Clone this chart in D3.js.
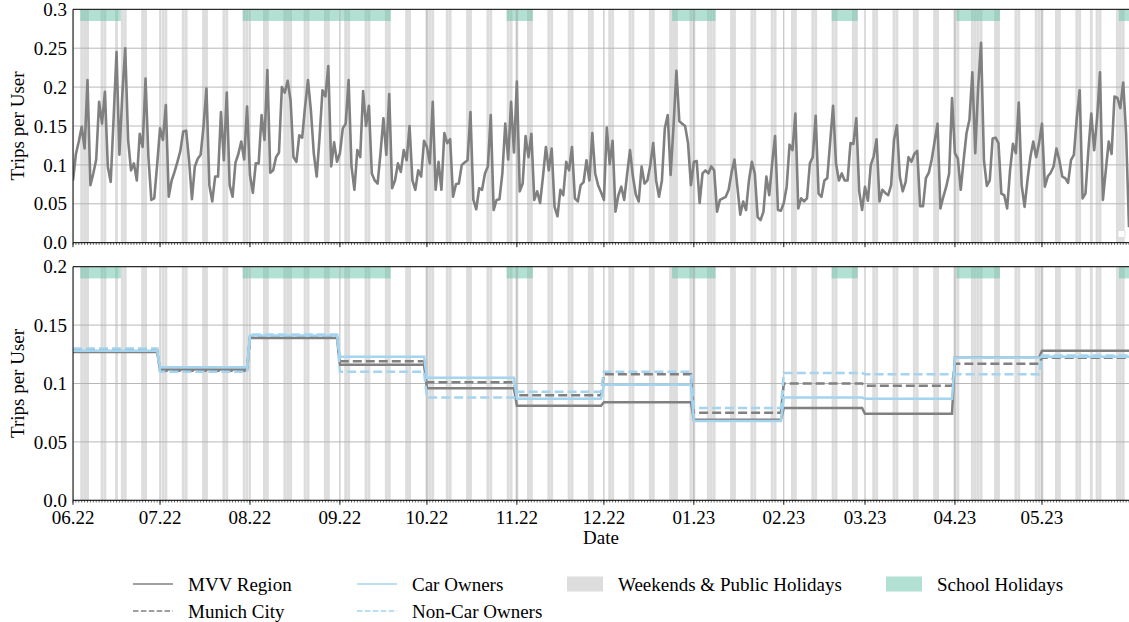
<!DOCTYPE html>
<html>
<head>
<meta charset="utf-8">
<script src="https://cdn.jsdelivr.net/npm/d3@7"></script>
<style>
  body { margin: 0; background: #fff; }
  svg { display: block; }
  text { font-family: "Liberation Serif", "DejaVu Serif", serif; fill: #000; }
</style>
</head>
<body>
<svg id="chart" width="1129" height="622"></svg>
<script>
// ---- data ----
var startDay = '2022-06-01';
var endDay = '2023-05-31';

// daily trips per user, MVV region, one value per day from 2022-06-01
var dailyTrips = [
  0.080, 0.114, 0.130, 0.149, 0.121, 0.209, 0.074, 0.089, 0.107, 0.181,
  0.153, 0.194, 0.098, 0.078, 0.160, 0.245, 0.113, 0.190, 0.250, 0.132,
  0.093, 0.102, 0.080, 0.140, 0.123, 0.211, 0.110, 0.055, 0.057, 0.100,
  0.147, 0.132, 0.177, 0.059, 0.080, 0.091, 0.104, 0.118, 0.143, 0.144,
  0.106, 0.056, 0.098, 0.108, 0.113, 0.150, 0.198, 0.074, 0.053, 0.085,
  0.085, 0.168, 0.106, 0.193, 0.074, 0.059, 0.103, 0.114, 0.130, 0.107,
  0.175, 0.087, 0.064, 0.102, 0.102, 0.164, 0.132, 0.222, 0.090, 0.093,
  0.110, 0.116, 0.200, 0.193, 0.208, 0.183, 0.110, 0.104, 0.138, 0.135,
  0.175, 0.209, 0.170, 0.115, 0.085, 0.136, 0.196, 0.188, 0.227, 0.098,
  0.129, 0.104, 0.115, 0.147, 0.153, 0.209, 0.098, 0.068, 0.119, 0.110,
  0.195, 0.150, 0.176, 0.089, 0.080, 0.076, 0.115, 0.160, 0.113, 0.191,
  0.070, 0.080, 0.102, 0.091, 0.119, 0.106, 0.150, 0.080, 0.068, 0.093,
  0.085, 0.131, 0.123, 0.102, 0.181, 0.068, 0.104, 0.068, 0.141, 0.128,
  0.133, 0.059, 0.075, 0.076, 0.100, 0.103, 0.106, 0.168, 0.055, 0.043,
  0.070, 0.068, 0.089, 0.098, 0.164, 0.042, 0.055, 0.056, 0.089, 0.153,
  0.107, 0.181, 0.116, 0.207, 0.066, 0.076, 0.137, 0.110, 0.140, 0.055,
  0.066, 0.051, 0.085, 0.123, 0.093, 0.121, 0.046, 0.034, 0.068, 0.061,
  0.104, 0.093, 0.123, 0.057, 0.053, 0.074, 0.078, 0.106, 0.080, 0.141,
  0.089, 0.074, 0.065, 0.055, 0.148, 0.101, 0.131, 0.040, 0.061, 0.072,
  0.055, 0.088, 0.119, 0.085, 0.062, 0.053, 0.098, 0.076, 0.080, 0.100,
  0.128, 0.080, 0.059, 0.080, 0.147, 0.164, 0.087, 0.150, 0.221, 0.156,
  0.153, 0.150, 0.128, 0.074, 0.104, 0.105, 0.051, 0.089, 0.093, 0.089,
  0.098, 0.093, 0.040, 0.055, 0.057, 0.059, 0.068, 0.090, 0.107, 0.072,
  0.036, 0.053, 0.042, 0.080, 0.104, 0.089, 0.033, 0.029, 0.040, 0.085,
  0.061, 0.102, 0.137, 0.042, 0.041, 0.051, 0.072, 0.126, 0.119, 0.166,
  0.044, 0.057, 0.053, 0.057, 0.102, 0.110, 0.163, 0.063, 0.059, 0.080,
  0.083, 0.130, 0.176, 0.102, 0.080, 0.089, 0.080, 0.080, 0.128, 0.127,
  0.160, 0.066, 0.042, 0.072, 0.054, 0.100, 0.111, 0.133, 0.053, 0.068,
  0.064, 0.061, 0.074, 0.132, 0.151, 0.085, 0.066, 0.078, 0.110, 0.104,
  0.114, 0.118, 0.047, 0.047, 0.083, 0.090, 0.107, 0.130, 0.153, 0.044,
  0.059, 0.072, 0.089, 0.186, 0.115, 0.108, 0.068, 0.106, 0.141, 0.158,
  0.219, 0.115, 0.200, 0.257, 0.106, 0.073, 0.080, 0.134, 0.135, 0.128,
  0.063, 0.061, 0.044, 0.093, 0.127, 0.115, 0.180, 0.074, 0.046, 0.080,
  0.110, 0.130, 0.110, 0.128, 0.153, 0.072, 0.085, 0.090, 0.098, 0.121,
  0.106, 0.085, 0.083, 0.077, 0.106, 0.113, 0.160, 0.196, 0.057, 0.063,
  0.119, 0.166, 0.119, 0.160, 0.219, 0.055, 0.093, 0.130, 0.114, 0.188,
  0.186, 0.173, 0.206, 0.140, 0.020
];

// monthly means
var months = ['2022-06', '2022-07', '2022-08', '2022-09', '2022-10', '2022-11',
              '2022-12', '2023-01', '2023-02', '2023-03', '2023-04', '2023-05'];
var mvvRegion    = [0.127, 0.112, 0.139, 0.116, 0.096, 0.081, 0.084, 0.069, 0.079, 0.074, 0.122, 0.128];
var munichCity   = [0.129, 0.111, 0.140, 0.119, 0.101, 0.090, 0.108, 0.075, 0.100, 0.098, 0.117, 0.122];
var carOwners    = [0.128, 0.114, 0.141, 0.123, 0.105, 0.087, 0.099, 0.068, 0.088, 0.087, 0.122, 0.123];
var nonCarOwners = [0.130, 0.110, 0.142, 0.110, 0.088, 0.093, 0.110, 0.079, 0.109, 0.108, 0.108, 0.124];

var publicHolidays = ['2022-06-06', '2022-06-16', '2022-08-15', '2022-10-03', '2022-11-01',
                      '2022-12-25', '2022-12-26', '2023-01-01', '2023-01-06', '2023-04-07',
                      '2023-04-10', '2023-05-01', '2023-05-18', '2023-05-29'];
var schoolHolidays = [['2022-06-04', '2022-06-17'], ['2022-07-30', '2022-09-18'],
                      ['2022-10-29', '2022-11-06'], ['2022-12-25', '2023-01-08'],
                      ['2023-02-18', '2023-02-26'], ['2023-04-02', '2023-04-16'],
                      ['2023-05-28', '2023-05-31']];

var topTicks = [0, 0.05, 0.1, 0.15, 0.2, 0.25, 0.3];
var topTickLabels = ['0.0', '0.05', '0.1', '0.15', '0.2', '0.25', '0.3'];
var bottomTicks = [0, 0.05, 0.1, 0.15, 0.2];
var bottomTickLabels = ['0.0', '0.05', '0.1', '0.15', '0.2'];

// ---- setup ----
var parseDay = d3.utcParse('%Y-%m-%d');
var parseMonth = d3.utcParse('%Y-%m');
var t0 = parseDay(startDay), t1 = parseDay(endDay);

var gray = '#808080';
var blue = '#a4d4ee';
var teal = 'rgb(102,194,165)';
var bandGray = '#dddddd';

var svg = d3.select('#chart');

var x = d3.scaleUtc()
    .domain([t0, t1])
    .range([73, 1129]);

var allDays = d3.utcDay.range(t0, d3.utcDay.offset(t1, 1));
var offDays = allDays.filter(function(d) {
    var wd = d.getUTCDay();
    return wd === 0 || wd === 6 || publicHolidays.indexOf(d3.utcFormat('%Y-%m-%d')(d)) >= 0;
});
var halfDay = function(d, s) { return d3.utcHour.offset(d, 12 * s); };

var panels = [
    {id: 'top', top: 9.3, bottom: 242.7, max: 0.3, ticks: topTicks, labels: topTickLabels, xlabels: false},
    {id: 'bot', top: 266.7, bottom: 500.3, max: 0.2, ticks: bottomTicks, labels: bottomTickLabels, xlabels: true}
];

panels.forEach(function(p) {
    p.y = d3.scaleLinear().domain([0, p.max]).range([p.bottom, p.top]);

    svg.append('clipPath').attr('id', 'clip-' + p.id)
        .append('rect')
        .attr('x', 73).attr('y', p.top)
        .attr('width', 1129 - 73).attr('height', p.bottom - p.top);

    var g = svg.append('g').attr('clip-path', 'url(#clip-' + p.id + ')');

    // weekends & public holidays
    g.selectAll('.offday')
        .data(offDays)
        .enter()
        .append('rect')
        .attr('class', 'offday')
        .attr('x', function(d) { return x(halfDay(d, -1)); })
        .attr('width', function(d) { return x(halfDay(d, 1)) - x(halfDay(d, -1)); })
        .attr('y', p.top)
        .attr('height', p.bottom - p.top)
        .attr('fill', bandGray);

    // school holidays strip at the top
    g.selectAll('.school')
        .data(schoolHolidays)
        .enter()
        .append('rect')
        .attr('x', function(d) { return x(halfDay(parseDay(d[0]), -1)); })
        .attr('width', function(d) { return x(halfDay(parseDay(d[1]), 1)) - x(halfDay(parseDay(d[0]), -1)); })
        .attr('y', p.top)
        .attr('height', (p.bottom - p.top) * 0.05)
        .attr('fill', teal)
        .attr('fill-opacity', 0.5);

    // grid
    g.selectAll('.hgrid')
        .data(p.ticks)
        .enter()
        .append('line')
        .attr('x1', 73).attr('x2', 1129)
        .attr('y1', function(d) { return p.y(d); })
        .attr('y2', function(d) { return p.y(d); })
        .attr('stroke', '#b0b0b0')
        .attr('stroke-width', 0.9);

    g.selectAll('.vgrid')
        .data(x.ticks(d3.utcMonth.every(1)))
        .enter()
        .append('line')
        .attr('x1', function(d) { return x(d); })
        .attr('x2', function(d) { return x(d); })
        .attr('y1', p.top).attr('y2', p.bottom)
        .attr('stroke', '#b0b0b0')
        .attr('stroke-width', 0.9);

    p.g = g;

    // y tick labels
    svg.selectAll('.ylab-' + p.id)
        .data(p.ticks)
        .enter()
        .append('text')
        .attr('x', 67)
        .attr('y', function(d) { return p.y(d); })
        .attr('dy', '0.35em')
        .attr('text-anchor', 'end')
        .style('font-size', '19px')
        .text(function(d, i) { return p.labels[i]; });

    svg.append('text')
        .attr('transform', 'translate(24,' + ((p.top + p.bottom) / 2) + ') rotate(-90)')
        .attr('text-anchor', 'middle')
        .style('font-size', '19px')
        .text('Trips per User');
});

// ---- top panel: daily line ----
var topPanel = panels[0];
var daily = dailyTrips.map(function(v, i) { return {date: d3.utcDay.offset(t0, i), v: v}; });

topPanel.g.append('path')
    .datum(daily)
    .attr('fill', 'none')
    .attr('stroke', gray)
    .attr('stroke-width', 2.6)
    .attr('stroke-linejoin', 'round')
    .attr('d', d3.line()
        .x(function(d) { return x(d.date); })
        .y(function(d) { return topPanel.y(d.v); }));

// empty legend box of the top panel
svg.append('rect')
    .attr('x', 1118).attr('y', 230.5)
    .attr('width', 7).attr('height', 7)
    .attr('rx', 1)
    .attr('fill', '#fff')
    .attr('stroke', '#d8d8d8')
    .attr('stroke-width', 0.8);

// ---- bottom panel: monthly steps ----
var botPanel = panels[1];
var monthlySeries = [
    {name: 'MVV Region', values: mvvRegion, color: gray, dash: null},
    {name: 'Munich City', values: munichCity, color: gray, dash: '9,4'},
    {name: 'Car Owners', values: carOwners, color: blue, dash: null},
    {name: 'Non-Car Owners', values: nonCarOwners, color: blue, dash: '9,4'}
];

function stepPoints(values) {
    var pts = [];
    values.forEach(function(v, i) {
        var m0 = parseMonth(months[i]);
        var mEnd = d3.utcDay.offset(d3.utcMonth.offset(m0, 1), -1);
        if (mEnd > t1) mEnd = t1;
        pts.push({date: m0, v: v});
        pts.push({date: mEnd, v: v});
    });
    return pts;
}

var stepLine = d3.line()
    .x(function(d) { return x(d.date); })
    .y(function(d) { return botPanel.y(d.v); });

botPanel.g.selectAll('.step')
    .data(monthlySeries)
    .enter()
    .append('path')
    .attr('fill', 'none')
    .attr('stroke', function(d) { return d.color; })
    .attr('stroke-width', 2.5)
    .attr('stroke-dasharray', function(d) { return d.dash; })
    .attr('d', function(d) { return stepLine(stepPoints(d.values)); });

// ---- axes / spines ----
panels.forEach(function(p) {
    var ax = svg.append('g');
    // minor day ticks
    ax.selectAll('.minor')
        .data(allDays)
        .enter()
        .append('line')
        .attr('x1', function(d) { return x(d); })
        .attr('x2', function(d) { return x(d); })
        .attr('y1', p.bottom).attr('y2', p.bottom + 2.2)
        .attr('stroke', '#000')
        .attr('stroke-width', 0.6);
    // major month ticks
    var mt = x.ticks(d3.utcMonth.every(1));
    ax.selectAll('.major')
        .data(mt)
        .enter()
        .append('line')
        .attr('x1', function(d) { return x(d); })
        .attr('x2', function(d) { return x(d); })
        .attr('y1', p.bottom).attr('y2', p.bottom + 4.5)
        .attr('stroke', '#000')
        .attr('stroke-width', 0.9);

    if (p.xlabels) {
        ax.selectAll('.xlab')
            .data(mt)
            .enter()
            .append('text')
            .attr('x', function(d) { return x(d); })
            .attr('y', 517)
            .attr('dy', '0.35em')
            .attr('text-anchor', 'middle')
            .style('font-size', '19px')
            .text(d3.utcFormat('%m.%y'));
    }

    ax.append('line')
        .attr('x1', 73).attr('x2', 1129)
        .attr('y1', p.top).attr('y2', p.top)
        .attr('stroke', '#000').attr('stroke-width', 1);
    ax.append('line')
        .attr('x1', 73).attr('x2', 1129)
        .attr('y1', p.bottom).attr('y2', p.bottom)
        .attr('stroke', '#000').attr('stroke-width', 1);
    ax.append('line')
        .attr('x1', 73).attr('x2', 73)
        .attr('y1', p.top).attr('y2', p.bottom)
        .attr('stroke', '#000').attr('stroke-width', 1);
});

svg.append('text')
    .attr('x', 601).attr('y', 537)
    .attr('dy', '0.35em')
    .attr('text-anchor', 'middle')
    .style('font-size', '19px')
    .text('Date');

// ---- legend ----
var legend = svg.append('g');
var lineItems = [
    {name: 'MVV Region', color: gray, dash: null, x: 133, y: 584},
    {name: 'Munich City', color: gray, dash: '5.5,2.4', x: 133, y: 611},
    {name: 'Car Owners', color: blue, dash: null, x: 357, y: 584},
    {name: 'Non-Car Owners', color: blue, dash: '5.5,2.4', x: 357, y: 611}
];
lineItems.forEach(function(d) {
    legend.append('line')
        .attr('x1', d.x).attr('x2', d.x + 40)
        .attr('y1', d.y).attr('y2', d.y)
        .attr('stroke', d.color)
        .attr('stroke-width', 1.6)
        .attr('stroke-dasharray', d.dash);
    legend.append('text')
        .attr('x', d.x + 55).attr('y', d.y)
        .attr('dy', '0.35em')
        .style('font-size', '19px')
        .text(d.name);
});
var patchItems = [
    {name: 'Weekends & Public Holidays', fill: bandGray, op: 1, x: 567, y: 584},
    {name: 'School Holidays', fill: teal, op: 0.5, x: 886, y: 584}
];
patchItems.forEach(function(d) {
    legend.append('rect')
        .attr('x', d.x).attr('y', d.y - 7.5)
        .attr('width', 36).attr('height', 15)
        .attr('fill', d.fill)
        .attr('fill-opacity', d.op);
    legend.append('text')
        .attr('x', d.x + 51).attr('y', d.y)
        .attr('dy', '0.35em')
        .style('font-size', '19px')
        .text(d.name);
});
</script>
</body>
</html>
